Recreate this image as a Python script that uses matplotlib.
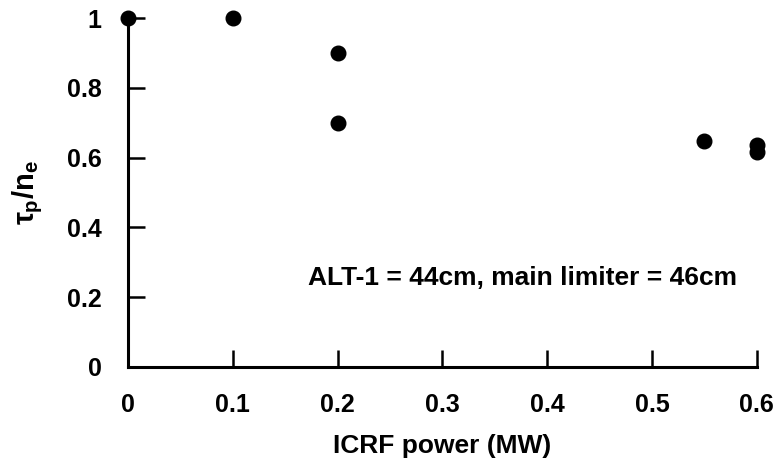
import matplotlib.pyplot as plt

plt.rcParams['font.family'] = ['Liberation Sans', 'DejaVu Sans']
plt.rcParams['font.weight'] = 'bold'
plt.rcParams['mathtext.fontset'] = 'custom'
plt.rcParams['mathtext.rm'] = 'Liberation Sans:bold'
plt.rcParams['mathtext.it'] = 'Liberation Sans'
plt.rcParams['mathtext.bf'] = 'Liberation Sans:bold'

# ICRF power (MW) and normalised particle confinement
power = [0.0, 0.1, 0.2, 0.2, 0.55, 0.6, 0.6]
tau_ratio = [1.0, 1.0, 0.9, 0.7, 0.648, 0.635, 0.617]

x_ticks = [0, 0.1, 0.2, 0.3, 0.4, 0.5, 0.6]
x_labels = ['0', '0.1', '0.2', '0.3', '0.4', '0.5', '0.6']
y_ticks = [0, 0.2, 0.4, 0.6, 0.8, 1.0]
y_labels = ['0', '0.2', '0.4', '0.6', '0.8', '1']


def make_chart():
    fig = plt.figure(figsize=(7.81, 4.69), dpi=100)
    ax = fig.add_axes([0.164, 0.2175, 0.805, 0.744])

    ax.plot(power, tau_ratio, 'o', color='black', markersize=10.5, clip_on=False, zorder=5)

    ax.set_xlim(0, 0.6)
    ax.set_ylim(0, 1)
    ax.set_xticks(x_ticks)
    ax.set_xticklabels(x_labels)
    ax.set_yticks(y_ticks)
    ax.set_yticklabels(y_labels)

    for side in ['top', 'right']:
        ax.spines[side].set_visible(False)
    for side in ['left', 'bottom']:
        ax.spines[side].set_linewidth(2.2)

    ax.tick_params(direction='in', length=12, width=1.8, labelsize=18, pad=19)

    ax.text(0.172, 0.255, 'ALT-1 = 44cm, main limiter = 46cm', fontsize=19,
            fontweight='bold', va='center')

    ax.set_xlabel('ICRF power (MW)', fontsize=19, fontweight='bold', labelpad=12)
    ax.set_ylabel(r'$\tau_\mathbf{p}/\mathbf{n_e}$', fontsize=21, labelpad=16)

    fig.savefig('out.png', dpi=100)
    plt.close(fig)


if __name__ == '__main__':
    make_chart()
